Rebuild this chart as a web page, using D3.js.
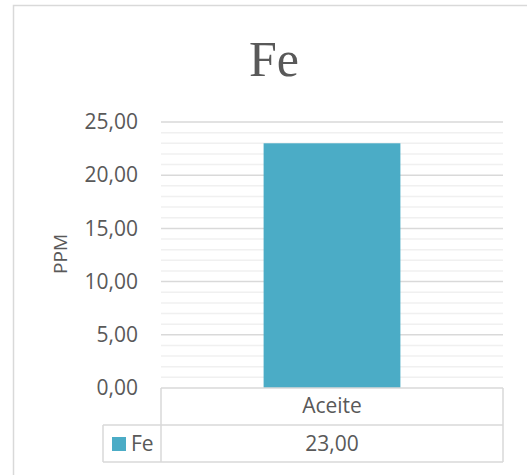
<!DOCTYPE html>
<html>
<head>
<meta charset="utf-8">
<script src="https://cdn.jsdelivr.net/npm/d3@7"></script>
<style>
  html, body { margin: 0; padding: 0; background: #fff; }
  svg { display: block; }
  text { font-family: "Open Sans", "Noto Sans", sans-serif; fill: #595959; }
</style>
</head>
<body>
<svg id="chart" width="527" height="475"></svg>
<script>
// Chart data
const categories = ["Aceite"];
const seriesNames = ["Fe"];
const feValues = [23.00];
const yTicks = [0, 5, 10, 15, 20, 25];
const minorTicks = d3.range(0, 25.001, 1);
const chartTitle = "Fe";
const yAxisTitle = "PPM";
const barColor = "#4BACC6";

const fmt = v => d3.format(".2f")(v).replace(".", ",");

const svg = d3.select("#chart");

// Outer chart frame (runs past the visible area on the right and bottom)
svg.append("rect")
  .attr("x", 13.5).attr("y", 5.5)
  .attr("width", 600).attr("height", 600)
  .attr("fill", "#fff")
  .attr("stroke", "#d9d9d9").attr("stroke-width", 1.5);

// Plot area
const plot = { left: 161, right: 503, top: 122, bottom: 388 };

const x = d3.scaleBand()
  .domain(categories)
  .range([plot.left, plot.right])
  .paddingInner(0.6)
  .paddingOuter(0.3);

const y = d3.scaleLinear().domain([0, 25]).range([plot.bottom, plot.top]);

// Title
svg.append("text")
  .attr("x", 274).attr("y", 76)
  .attr("text-anchor", "middle")
  .style("font-family", "'Liberation Serif', 'DejaVu Serif', serif")
  .style("font-size", "50px")
  .text(chartTitle);

// Minor gridlines
svg.append("g")
  .selectAll("line")
  .data(minorTicks.filter(t => t % 5 !== 0))
  .join("line")
  .attr("x1", plot.left).attr("x2", plot.right)
  .attr("y1", d => y(d)).attr("y2", d => y(d))
  .attr("stroke", "#f0f0f0").attr("stroke-width", 1.5);

// Major gridlines
svg.append("g")
  .selectAll("line")
  .data(yTicks.filter(t => t > 0))
  .join("line")
  .attr("x1", plot.left).attr("x2", plot.right)
  .attr("y1", d => y(d)).attr("y2", d => y(d))
  .attr("stroke", "#d9d9d9").attr("stroke-width", 1.5);

// Y axis labels
const yAxis = d3.axisLeft(y).tickValues(yTicks).tickFormat(fmt).tickSize(0).tickPadding(23);
const yg = svg.append("g").attr("transform", `translate(${plot.left},0)`).call(yAxis);
yg.select(".domain").remove();
yg.selectAll("text")
  .style("font-size", "21px")
  .style("font-family", "'Open Sans', sans-serif")
  .attr("fill", "#595959");

// Y axis title
svg.append("text")
  .attr("transform", `translate(67,254) rotate(-90)`)
  .attr("text-anchor", "middle")
  .style("font-size", "19px")
  .text(yAxisTitle);

// Bars
svg.append("g")
  .selectAll("rect")
  .data(feValues)
  .join("rect")
  .attr("x", (d, i) => x(categories[i]))
  .attr("width", x.bandwidth())
  .attr("y", d => y(d))
  .attr("height", d => y(0) - y(d))
  .attr("fill", barColor);

// Data table
const tbl = { left: 103, mid: 161, right: 503, top: 388, row: 425, bottom: 462 };
const tg = svg.append("g").attr("stroke", "#d9d9d9").attr("stroke-width", 1.5).attr("fill", "none");
tg.append("line").attr("x1", tbl.mid).attr("x2", tbl.right).attr("y1", tbl.top).attr("y2", tbl.top);
tg.append("line").attr("x1", tbl.left).attr("x2", tbl.right).attr("y1", tbl.row).attr("y2", tbl.row);
tg.append("line").attr("x1", tbl.left).attr("x2", tbl.right).attr("y1", tbl.bottom).attr("y2", tbl.bottom);
tg.append("line").attr("x1", tbl.left).attr("x2", tbl.left).attr("y1", tbl.row).attr("y2", tbl.bottom);
tg.append("line").attr("x1", tbl.mid).attr("x2", tbl.mid).attr("y1", tbl.top).attr("y2", tbl.bottom);
tg.append("line").attr("x1", tbl.right).attr("x2", tbl.right).attr("y1", tbl.top).attr("y2", tbl.bottom);

// Category labels
svg.append("g")
  .selectAll("text")
  .data(categories)
  .join("text")
  .attr("x", d => x(d) + x.bandwidth() / 2)
  .attr("y", 413)
  .attr("text-anchor", "middle")
  .style("font-size", "21px")
  .text(d => d);

// Value row
svg.append("g")
  .selectAll("text")
  .data(feValues)
  .join("text")
  .attr("x", (d, i) => x(categories[i]) + x.bandwidth() / 2)
  .attr("y", 451)
  .attr("text-anchor", "middle")
  .style("font-size", "21px")
  .text(d => fmt(d));

// Legend key in table
svg.append("rect")
  .attr("x", 112).attr("y", 437).attr("width", 14).attr("height", 14)
  .attr("fill", barColor);
svg.append("text")
  .attr("x", 131).attr("y", 451)
  .style("font-size", "21px")
  .text(seriesNames[0]);
</script>
</body>
</html>
